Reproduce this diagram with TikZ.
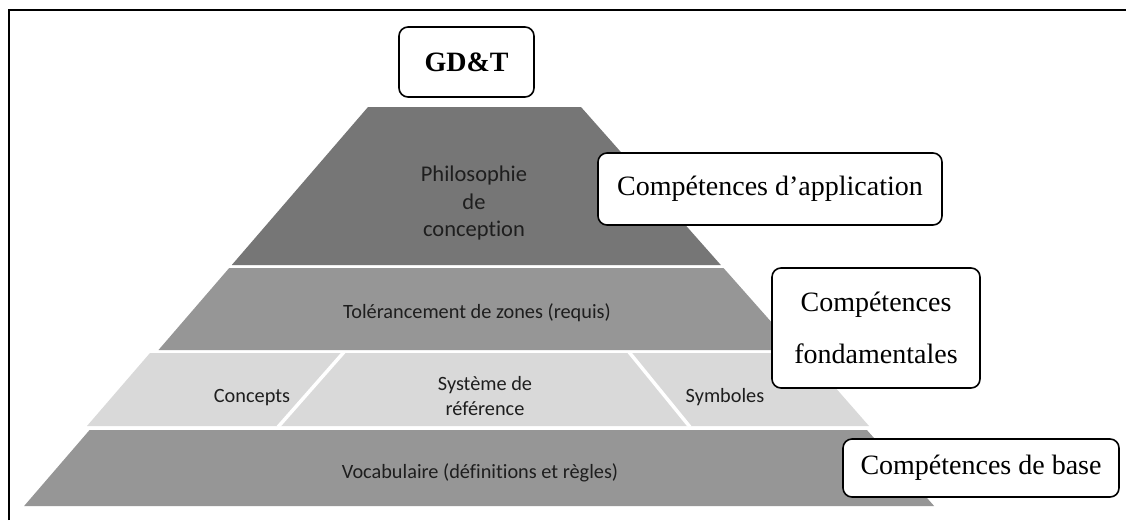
\documentclass[tikz,border=0pt]{standalone}
\usepackage{fontspec}
\setmainfont{Liberation Serif}
\newfontfamily\calib[Ligatures=NoCommon]{Carlito}
\definecolor{tierdark}{HTML}{767676}
\definecolor{tiermid}{HTML}{969696}
\definecolor{tierlight}{HTML}{D9D9D9}
\definecolor{ink}{HTML}{1E1E1E}
\begin{document}
\begin{tikzpicture}[x=1pt,y=-1pt,
  lbl/.style={font=\calib\fontsize{20.3}{24.5}\selectfont, text=ink, align=center, inner sep=0pt},
  tag/.style={draw=black, line width=1.6pt, rounded corners=9pt, fill=white,
              inner sep=0pt, align=center, font=\fontsize{28}{34}\selectfont},
  cut/.style={white, line width=3.5pt},
]
\useasboundingbox (0,0) rectangle (1126,520);
\fill[white] (0,0) rectangle (1126,520);

% outer frame (left and top edges)
\draw[line width=2.6pt] (9,520) -- (9,10) -- (1126,10);

% pyramid tiers, top to bottom
\fill[tierdark]  (368,107) -- (581,107) -- (720.8,265) -- (231.8,265) -- cycle;
\fill[tiermid]   (229.2,268) -- (723.5,268) -- (796.1,350) -- (158.5,350) -- cycle;
\fill[tierlight] (150,353) -- (805,353) -- (869,426) -- (87,426) -- cycle;
\fill[tiermid]   (89.6,430) -- (866.9,430) -- (934.1,506) -- (24.1,506) -- cycle;

% splits of the third tier
\draw[cut] (344,352) -- (278,427);
\draw[cut] (629,352) -- (690,427);

% tier labels
\node[lbl, font=\calib\fontsize{22.5}{27.5}\selectfont] (philo) at (474,203) {Philosophie\\de\\conception};
\node[lbl] (tol) at (477,313) {Tolérancement de zones (requis)};
\node[lbl] (conc) at (252,398) {Concepts};
\node[lbl] (sys) at (485,396) {Système de\\référence};
\node[lbl] (sym) at (725,397) {Symboles};
\node[lbl] (voc) at (480,473) {Vocabulaire (définitions et règles)};

% title and skill tags
\node[tag, minimum width=135pt, minimum height=70pt, font=\bfseries\fontsize{28}{34}\selectfont] (gdt) at (466.5,62) {GD\&T};
\node[tag, minimum width=344pt, minimum height=72pt] (app) at (770,189) {Compétences d’application};
\node[tag, minimum width=208pt, minimum height=120pt, font=\fontsize{28}{52}\selectfont] (fond) at (876,328) {Compétences\\fondamentales};
\node[tag, minimum width=276pt, minimum height=58pt] (base) at (981,468) {Compétences de base};
\end{tikzpicture}
\end{document}
